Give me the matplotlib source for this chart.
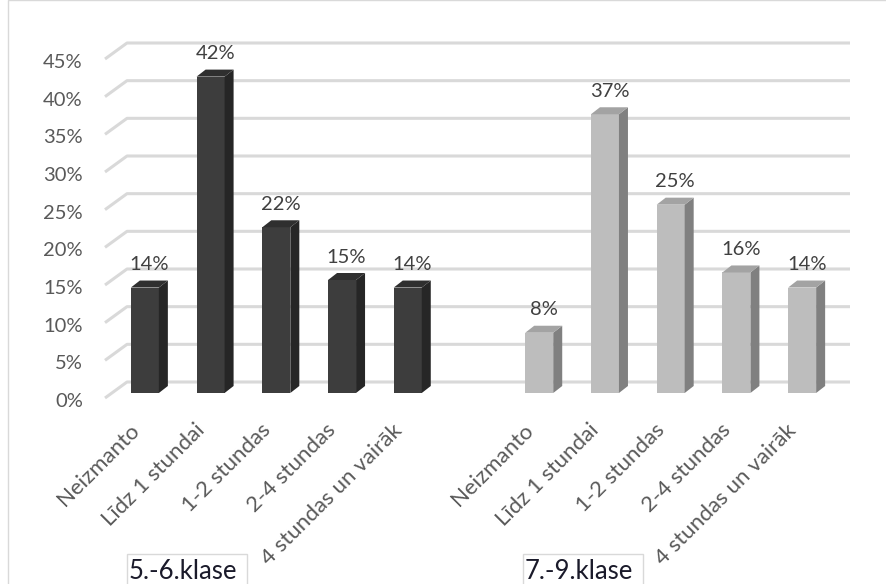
import matplotlib.pyplot as plt
from matplotlib.patches import Rectangle, Polygon
from matplotlib.transforms import ScaledTranslation

plt.rcParams['font.family'] = ['Lato', 'DejaVu Sans']

# data
categories = ["Neizmanto", "Līdz 1 stundai", "1-2 stundas", "2-4 stundas", "4 stundas un vairāk"]
kl_5_6 = [14, 42, 22, 15, 14]
kl_7_9 = [8, 37, 25, 16, 14]
groups = ["5.-6.klase", "7.-9.klase"]
yticks = [0, 5, 10, 15, 20, 25, 30, 35, 40, 45]

W, H = 886, 584
fig = plt.figure(figsize=(W / 100, H / 100), dpi=100)


def px(x, y):
    # pixel position (from top-left) -> figure fraction
    return x / W, 1 - y / H


def shift(dx, dy):
    return ScaledTranslation(dx / 100, -dy / 100, fig.dpi_scale_trans)


# front plane of the plot area, in pixels
left, right, top, bottom = 105, 828, 59, 398
ax = fig.add_axes([left / W, 1 - bottom / H, (right - left) / W, (bottom - top) / H])
ax.set_xlim(-0.5, 10.5)
ax.set_ylim(0, 45)
for s in ax.spines.values():
    s.set_visible(False)

sx = (right - left) / 11   # px per slot
sy = (bottom - top) / 45   # px per percent

# back wall gridlines with the diagonal stub on the left
wx, wy = 22 / sx, 16 / sy
for t in yticks:
    ax.plot([-0.5, -0.5 + wx, 10.5 + wx], [t, t + wy, t + wy], color='#d9d9d9',
            lw=2.2, clip_on=False, zorder=1, solid_capstyle='butt')

# bars, faked 3d
bar_tr = ax.transData + shift(7, -5)
bw = 28 / sx
bx, by = 9 / sx, 7 / sy


def bar3d(xs, vals, front, side, topc):
    ax.bar(xs, vals, width=bw, color=front, transform=bar_tr, zorder=3)
    for x, v in zip(xs, vals):
        l, r = x - bw / 2, x + bw / 2
        ax.add_patch(Polygon([(r, 0), (r + bx, by), (r + bx, v + by), (r, v)],
                             closed=True, fc=side, ec='none', transform=bar_tr, zorder=3))
        ax.add_patch(Polygon([(l, v), (r, v), (r + bx, v + by), (l + bx, v + by)],
                             closed=True, fc=topc, ec='none', transform=bar_tr, zorder=3))
        ax.annotate(f"{v}%", (x + bx / 2, v + by), xycoords=bar_tr, xytext=(0, 7.5),
                    textcoords='offset points', ha='center', va='baseline',
                    fontsize=14.5, color='#404040')


xs1 = [0, 1, 2, 3, 4]
xs2 = [6, 7, 8, 9, 10]
bar3d(xs1, kl_5_6, '#3d3d3d', '#262626', '#2f2f2f')
bar3d(xs2, kl_7_9, '#bdbdbd', '#808080', '#a3a3a3')

# axis labels
ax.set_yticks(yticks, [f"{t}%" for t in yticks])
ax.tick_params(axis='y', length=0, pad=16, labelsize=14.5, labelcolor='#595959')
for lbl in ax.get_yticklabels():
    lbl.set_transform(lbl.get_transform() + shift(0, 2))

ax.set_xticks(xs1 + xs2, categories + categories)
ax.tick_params(axis='x', length=0, pad=21, labelsize=16, labelcolor='#595959')
for lbl in ax.get_xticklabels():
    lbl.set_rotation(45)
    lbl.set_ha('right')
    lbl.set_va('center')
    lbl.set_rotation_mode('anchor')
    lbl.set_transform(lbl.get_transform() + shift(-2, 0))

# boxed group names under the axis
for name, x0 in zip(groups, [127, 523]):
    fig.add_artist(Rectangle(px(x0, 600), 120 / W, 46 / H, transform=fig.transFigure,
                             fill=False, ec='#d9d9d9', lw=1))
    fig.text(*px(x0 + 2, 579), name, fontsize=18.5, color='#1a1a2a', va='baseline')

# chart border
fig.add_artist(Rectangle(px(8, 600), 900 / W, 600 / H, transform=fig.transFigure,
                         fill=False, ec='#d9d9d9', lw=1))

fig.savefig('out.png', dpi=100)
